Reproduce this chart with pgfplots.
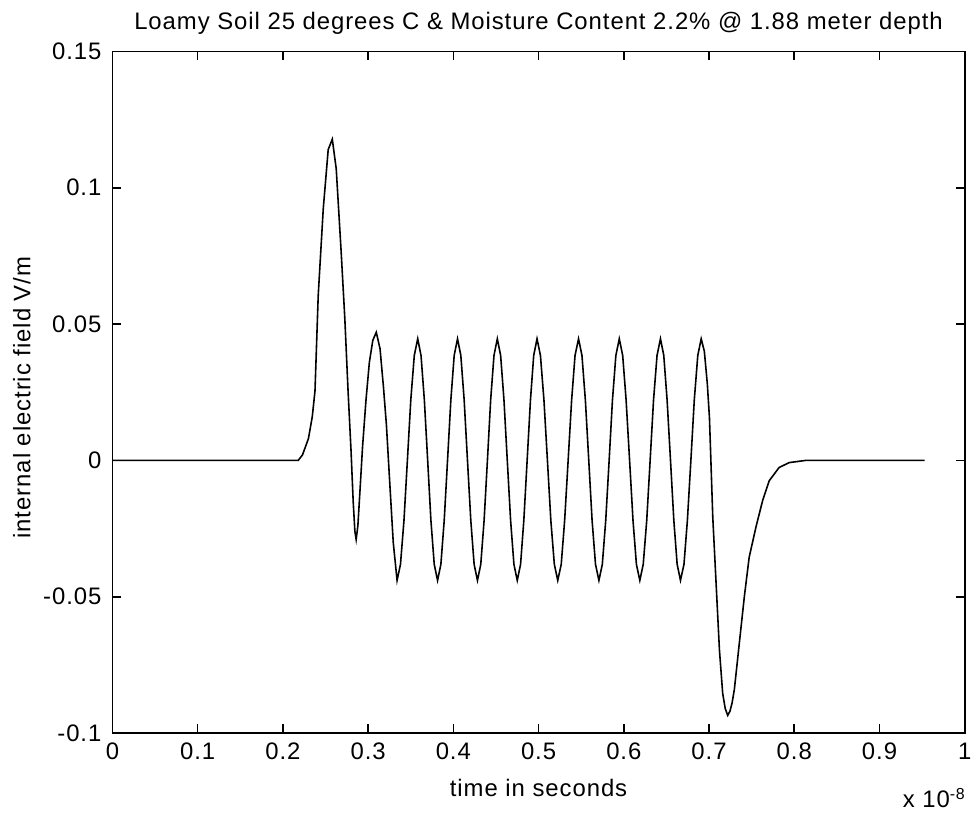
\documentclass[border=0pt]{standalone}
\usepackage{fontspec}
\setmainfont{Liberation Sans}[LetterSpace=4]
\usepackage{pgfplots}
\pgfplotsset{compat=1.18}

\begin{document}
\begin{tikzpicture}
\begin{axis}[
  name = main,
  scale only axis,
  width  = 428.5pt,
  height = 342.7pt,
  xmin = 0, xmax = 1,
  ymin = -0.1, ymax = 0.15,
  xtick = {0,0.1,0.2,0.3,0.4,0.5,0.6,0.7,0.8,0.9,1},
  xticklabels = {0,0.1,0.2,0.3,0.4,0.5,0.6,0.7,0.8,0.9,1},
  ytick = {-0.1,-0.05,0,0.05,0.1,0.15},
  yticklabels = {-0.1,-0.05,0,0.05,0.1,0.15},
  major tick length = 4.5pt,
  tick style = {black, line width=0.8pt},
  axis line style = {black, line width=0.8pt},
  every tick label/.append style = {font=\fontsize{12}{14}\selectfont},
  xticklabel style = {yshift=-1.5pt},
  yticklabel style = {xshift=-2pt},
]

\addplot[black, line width=0.8pt] coordinates {
  (0.000,0)(0.218,0)(0.223,0.002)(0.230,0.008)(0.2345,0.016)(0.2377,0.0255)
  (0.2415,0.0606)(0.2474,0.0923)(0.2532,0.114)(0.258,0.1178)(0.2626,0.107)
  (0.2684,0.0765)(0.2727,0.052)(0.2765,0.0255)(0.280,0.0035)(0.2825,-0.015)
  (0.2845,-0.026)(0.2860,-0.029)(0.2880,-0.024)(0.2905,-0.011)(0.2935,0.005)
  (0.2975,0.022)(0.3015,0.036)(0.3055,0.044)(0.3096,0.047)(0.3140,0.041)
  (0.3180,0.027)(0.3215,0.013)(0.3250,-0.006)(0.3295,-0.030)(0.3340,-0.044)
  % steady oscillation
  (0.3380,-0.0381)(0.3421,-0.0220)(0.3461,0)(0.3501,0.0222)(0.3542,0.0385)(0.3582,0.0446)
  (0.3621,0.0385)(0.3660,0.0222)(0.3699,0)(0.3737,-0.0220)(0.3776,-0.0381)(0.3815,-0.0440)
  (0.3854,-0.0381)(0.3893,-0.0220)(0.3932,0)(0.3971,0.0222)(0.4010,0.0385)(0.4049,0.0446)
  (0.4088,0.0385)(0.4127,0.0222)(0.4166,0)(0.4205,-0.0220)(0.4244,-0.0381)(0.4283,-0.0440)
  (0.4322,-0.0381)(0.4361,-0.0220)(0.4400,0)(0.4438,0.0222)(0.4477,0.0385)(0.4516,0.0446)
  (0.4555,0.0385)(0.4594,0.0222)(0.4633,0)(0.4672,-0.0220)(0.4711,-0.0381)(0.4750,-0.0440)
  (0.4789,-0.0381)(0.4827,-0.0220)(0.4866,0)(0.4905,0.0222)(0.4943,0.0385)(0.4982,0.0446)
  (0.5022,0.0385)(0.5063,0.0222)(0.5104,0)(0.5144,-0.0220)(0.5185,-0.0381)(0.5225,-0.0440)
  (0.5266,-0.0381)(0.5306,-0.0220)(0.5347,0)(0.5388,0.0222)(0.5428,0.0385)(0.5469,0.0446)
  (0.5509,0.0385)(0.5549,0.0222)(0.5589,0)(0.5628,-0.0220)(0.5668,-0.0381)(0.5708,-0.0440)
  (0.5748,-0.0381)(0.5788,-0.0220)(0.5828,0)(0.5867,0.0222)(0.5907,0.0385)(0.5947,0.0446)
  (0.5987,0.0385)(0.6027,0.0222)(0.6068,0)(0.6108,-0.0220)(0.6148,-0.0381)(0.6188,-0.0440)
  (0.6228,-0.0381)(0.6269,-0.0220)(0.6309,0)(0.6349,0.0222)(0.6390,0.0385)(0.6430,0.0446)
  (0.6469,0.0385)(0.6508,0.0222)(0.6548,0)(0.6587,-0.0220)(0.6626,-0.0381)(0.6665,-0.0440)
  (0.6706,-0.0381)(0.6746,-0.0220)(0.6787,0)(0.6827,0.0222)(0.6868,0.0385)(0.6908,0.0446)
  % final negative lobe
  (0.6945,0.0400)(0.6980,0.0280)(0.7005,0.0156)(0.7044,-0.0209)(0.7083,-0.0452)
  (0.7122,-0.0695)(0.7160,-0.0854)(0.7190,-0.0910)(0.7219,-0.0935)(0.7245,-0.0920)
  (0.7270,-0.0890)(0.7297,-0.0840)(0.7355,-0.0671)(0.7414,-0.0500)(0.7471,-0.0355)
  (0.7550,-0.0245)(0.7628,-0.0148)(0.7705,-0.0075)(0.7822,-0.0026)(0.7940,-0.0008)
  (0.8133,0)(0.953,0)
};
\end{axis}
% text outside the axis box, placed against the axis rectangle
\node[anchor=base, font=\fontsize{12}{14}\selectfont]
  at ([yshift=11pt]main.north)
  {Loamy Soil 25 degrees C \& Moisture Content 2.2\% @ 1.88 meter depth};
\node[anchor=base, font=\fontsize{12}{14}\selectfont]
  at ([yshift=-32pt]main.south) {time in seconds};
\node[anchor=center, rotate=90, font=\fontsize{12}{14}\selectfont]
  at ([xshift=-45.5pt, yshift=-2.7pt]main.west) {internal electric field V/m};
\node[anchor=base east, font=\fontsize{12}{14}\selectfont]
  at ([yshift=-37.5pt, xshift=4pt]main.south east) {x 10\textsuperscript{-8}};
% keep the page at the reference's proportions
\path (main.south west) ++(-56.5pt,-43.5pt);
\path (main.north east) ++(4pt,25.85pt);
\end{tikzpicture}
\end{document}
